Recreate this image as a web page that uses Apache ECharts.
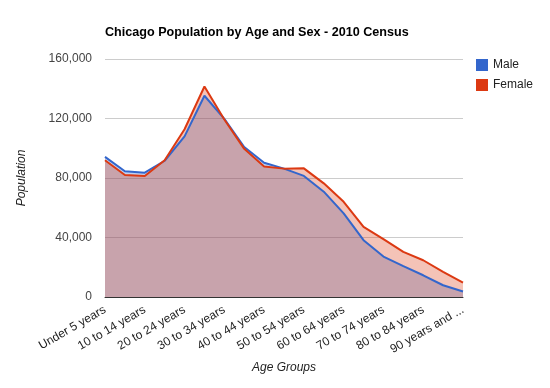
<!DOCTYPE html>
<html>
<head>
<meta charset="utf-8">
<script src="https://cdn.jsdelivr.net/npm/echarts@6/dist/echarts.min.js"></script>
<style>html,body{margin:0;padding:0;background:#fff;}#c{width:550px;height:388px;}</style>
</head>
<body>
<div id="c"></div>
<script>
const categories = ["Under 5 years","5 to 9 years","10 to 14 years","15 to 19 years","20 to 24 years","25 to 29 years","30 to 34 years","35 to 39 years","40 to 44 years","45 to 49 years","50 to 54 years","55 to 59 years","60 to 64 years","65 to 69 years","70 to 74 years","75 to 79 years","80 to 84 years","85 to 89 years","90 years and over"];
const male = [94200, 84500, 83600, 91600, 108000, 135300, 119800, 100800, 90300, 86300, 81400, 70800, 56200, 38200, 27200, 20700, 14600, 7900, 3700];
const female = [91900, 82000, 81300, 91900, 112800, 141500, 119300, 99600, 87700, 86300, 86500, 76400, 64000, 47200, 38900, 30300, 24700, 16900, 9600];
const yTicks = [0, 40000, 80000, 120000, 160000];

const chart = echarts.init(document.getElementById('c'), null, {renderer: 'canvas'});
const font = 'Arial, "Liberation Sans", sans-serif';
chart.setOption({
  animation: false,
  backgroundColor: '#fff',
  title: {
    text: 'Chicago Population by Age and Sex - 2010 Census',
    left: 105, top: 26, padding: 0,
    textStyle: {fontFamily: font, fontSize: 12.6, fontWeight: 'bold', color: '#000'}
  },
  legend: {
    orient: 'vertical', left: 476, top: 59, padding: 0,
    itemWidth: 12, itemHeight: 12, itemGap: 8,
    icon: 'rect',
    textStyle: {fontFamily: font, fontSize: 12, color: '#222'},
    data: ['Male', 'Female']
  },
  grid: {left: 105, right: 87, top: 59, bottom: 91, outerBoundsMode: 'none'},
  xAxis: {
    type: 'category', data: categories, boundaryGap: false,
    name: 'Age Groups', nameLocation: 'middle', nameGap: 62,
    nameTextStyle: {fontFamily: font, fontSize: 12, fontStyle: 'italic', color: '#222'},
    axisLine: {lineStyle: {color: '#333', width: 1}},
    axisTick: {show: false},
    axisLabel: {interval: 1, rotate: 30, margin: 12, fontFamily: font, fontSize: 12, color: '#222',
      width: 86, overflow: 'truncate', ellipsis: '...'}
  },
  yAxis: {
    type: 'value', min: yTicks[0], max: yTicks[yTicks.length-1], interval: 40000,
    name: 'Population', nameLocation: 'middle', nameGap: 77,
    nameTextStyle: {fontFamily: font, fontSize: 12, fontStyle: 'italic', color: '#222'},
    axisLine: {show: false}, axisTick: {show: false},
    splitLine: {lineStyle: {color: '#ccc', width: 1}},
    axisLabel: {margin: 13, fontFamily: font, fontSize: 12, color: '#444',
      formatter: v => v.toLocaleString('en-US')}
  },
  series: [
    {name: 'Male', type: 'line', data: male, showSymbol: false, symbol: 'none',
      lineStyle: {color: '#3366cc', width: 2}, itemStyle: {color: '#3366cc'},
      areaStyle: {color: '#3366cc', opacity: 0.3}},
    {name: 'Female', type: 'line', data: female, showSymbol: false, symbol: 'none',
      lineStyle: {color: '#dc3912', width: 2}, itemStyle: {color: '#dc3912'},
      areaStyle: {color: '#dc3912', opacity: 0.3}}
  ]
});
</script>
</body>
</html>
